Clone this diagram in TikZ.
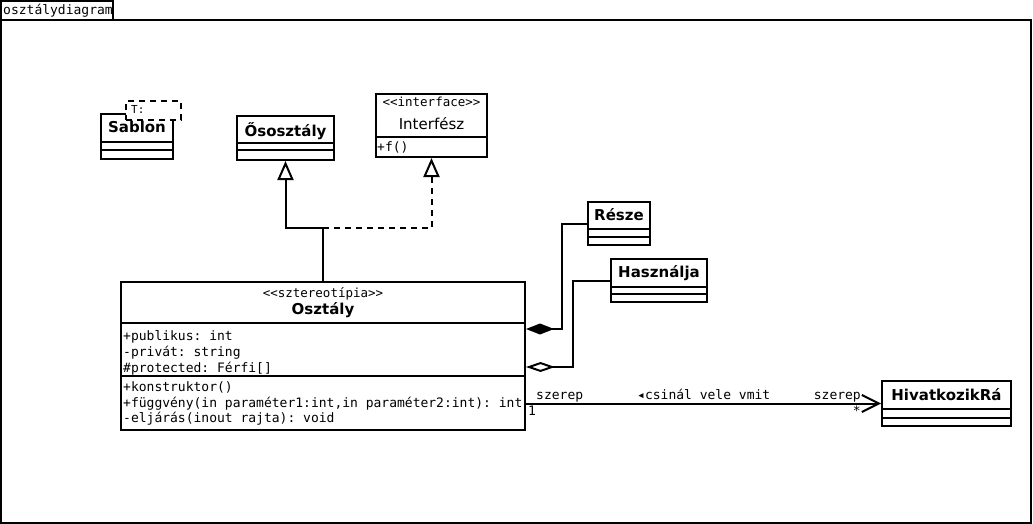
\documentclass[tikz,border=0pt]{standalone}
\usepackage{fontspec}
\setmainfont{DejaVu Sans}
\setmonofont{DejaVu Sans Mono}
\usetikzlibrary{positioning,arrows.meta}

\tikzset{
    box/.style={draw, line width=2pt, fill=white, inner sep=0pt, anchor=north west},
    cname/.style={font=\fontsize{15}{18}\selectfont\bfseries, inner sep=0pt, anchor=base},
    mono/.style={font=\fontsize{13}{16}\selectfont\ttfamily, inner sep=0pt, anchor=base west},
    small/.style={font=\fontsize{12.5}{14}\selectfont\ttfamily, inner sep=0pt, anchor=base},
    edge/.style={line width=2pt},
    inherit/.style={line width=2pt, -{Triangle[open, length=19pt, width=16pt, line width=2pt, fill=white]}},
    realize/.style={inherit, dash pattern=on 6pt off 5pt},
    comp/.style={line width=2pt, {Diamond[length=28pt, width=11pt]}-},
    aggr/.style={line width=2pt, {Diamond[open, length=29pt, width=10pt, line width=2pt, fill=white]}-},
    assoc/.style={line width=2pt, -{Straight Barb[length=17pt, width=17pt, line width=2pt]}}
}

\begin{document}
\begin{tikzpicture}[x=1pt, y=-1pt]
    \useasboundingbox (0,0) rectangle (1033,524);
    % Frame and its tab
    \draw[edge] (1,20.5) rectangle (1031,522.5);
    \draw[edge] (1,1) rectangle (113,20.5);
    \node[mono] (tablabel) at (3,15) {osztálydiagram};

    % Template class
    \node[box, minimum width=72pt, minimum height=45pt] (sablon) at (100,113) {};
    \node[box, dash pattern=on 6pt off 5pt, minimum width=55pt, minimum height=19pt] (param) at (125,100) {};
    \node[font=\fontsize{11}{13}\selectfont\ttfamily, inner sep=0pt, anchor=base west] (paramlabel) at (131,114) {T:};
    \node[cname] (sablonname) at (sablon.north |- 0,133) {Sablon};

    % Base class and interface
    \node[box, minimum width=97pt, minimum height=44pt] (oso) at (236,115) {};
    \node[cname] (osoname) at (oso.north |- 0,136) {Ősosztály};
    \node[box, minimum width=111pt, minimum height=63pt] (iface) at (375,93) {};
    \node[small] (ifacestereo) at (iface.north |- 0,107) {<<interface>>};
    \node[font=\fontsize{15}{18}\selectfont, inner sep=0pt, anchor=base] (ifacename) at (iface.north |- 0,130) {Interfész};
    \draw[edge] (iface.west |- 0,137) -- (iface.east |- 0,137);
    \node[mono] (ifaceop) at (377,151) {+f()};

    % Parts, used and referenced classes
    \node[box, minimum width=62pt, minimum height=43pt] (resze) at (587,201) {};
    \node[cname] (reszename) at (resze.north |- 0,220) {Része};
    \node[box, minimum width=96pt, minimum height=43pt] (hasznalja) at (610,258) {};
    \node[cname] (hasznaljaname) at (hasznalja.north |- 0,277) {Használja};
    \node[box, minimum width=129pt, minimum height=45pt] (hiv) at (881,380) {};
    \node[cname] (hivname) at (hiv.north |- 0,400) {HivatkozikRá};

    % Empty compartments of the simple classes
    \foreach \cls/\ya/\yb in {sablon/142/150, oso/143/150, resze/229/237, hasznalja/287/294, hiv/409/418} {
        \draw[edge] (\cls.west |- 0,\ya) -- (\cls.east |- 0,\ya);
        \draw[edge] (\cls.west |- 0,\yb) -- (\cls.east |- 0,\yb);
    }

    % The main class
    \node[box, minimum width=404pt, minimum height=148pt] (osztaly) at (120,281) {};
    \node[small] (osztalystereo) at (osztaly.north |- 0,297) {<<sztereotípia>>};
    \node[cname] (osztalyname) at (osztaly.north |- 0,314) {Osztály};
    \draw[edge] (osztaly.west |- 0,323) -- (osztaly.east |- 0,323);
    \draw[edge] (osztaly.west |- 0,376) -- (osztaly.east |- 0,376);
    \node[mono] (attr1) at (123,340) {+publikus: int};
    \node[mono] (attr2) at (123,356) {-privát: string};
    \node[mono] (attr3) at (123,372) {\#protected: Férfi[]};
    \node[mono] (op1) at (123,391.5) {+konstruktor()};
    \node[mono] (op2) at (123,407) {+függvény(in paraméter1:int,in paraméter2:int): int};
    \node[mono] (op3) at (123,422.5) {-eljárás(inout rajta): void};

    % Generalization and realization
    \coordinate (split) at ([yshift=53pt]osztaly.north);
    \draw[edge] (osztaly.north) -- (split);
    \draw[inherit] (split) -| (oso.south);
    \draw[realize] (split) -| (iface.south);

    % Composition and aggregation
    \draw[comp] ([yshift=27pt]osztaly.east) -| ([xshift=-25pt]resze.west) -- (resze.west);
    \draw[aggr] ([yshift=-11pt]osztaly.east) -| ([xshift=-37pt]hasznalja.west) -- (hasznalja.west);

    % Association
    \draw[assoc] (osztaly.east |- hiv.west) -- (hiv.west);
    \node[mono] (roleleft) at (536,399) {szerep};
    \node[mono] (multleft) at (528,415) {1};
    \node[mono] (assocname) at (637,399) {◂csinál vele vmit};
    \node[mono, anchor=base east] (roleright) at (861,399) {szerep};
    \node[mono, anchor=base east] (multright) at (861,415) {*};
\end{tikzpicture}
\end{document}
